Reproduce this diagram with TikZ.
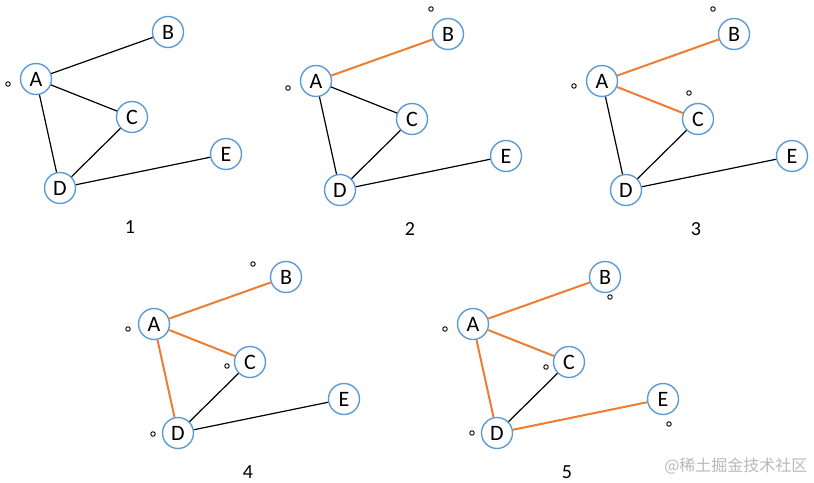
\documentclass[tikz,border=0pt]{standalone}
\usepackage{fontspec}
\setmainfont{Carlito}
\newfontfamily\cjk{Noto Sans CJK SC}
\usetikzlibrary{backgrounds}
\definecolor{nodeblue}{HTML}{5B9BD5}
\definecolor{edgeorange}{HTML}{ED7D31}

\begin{document}
\begin{tikzpicture}[
      x=1pt, y=-1pt,
      vtx/.style={circle, draw=nodeblue, line width=1.4pt, fill=white, inner sep=0pt, minimum size=31pt, font=\fontsize{22}{22}\selectfont},
      visit/.style={circle, draw=black, line width=0.9pt, inner sep=0pt, minimum size=4.5pt},
      numlbl/.style={inner sep=0pt, font=\fontsize{20}{20}\selectfont},
      plain/.style={black, line width=1.2pt},
      done/.style={edgeorange, line width=2pt}
    ]
    \useasboundingbox (0,0) rectangle (814,482);
    % five snapshots of the same graph
    \foreach \g/\dx/\dy in {1/0/0, 2/280/2, 3/566/2, 4/118/245, 5/437/245}{
      \begin{scope}[shift={(\dx,\dy)}]
        \node[vtx] (A\g) at (36,79) {A};
        \node[vtx] (B\g) at (168,32) {B};
        \node[vtx] (C\g) at (132,117) {C};
        \node[vtx] (D\g) at (60,188) {D};
        \node[vtx] (E\g) at (226,154) {E};
        \node[numlbl] (n\g) at (130,227) {\g};
      \end{scope}
      % edge k turns orange after step k
      \foreach \u/\v/\k in {A/B/1, A/C/2, A/D/3, D/E/4, C/D/9}{
        \ifnum\k<\g
          \draw[done] (\u\g) -- (\v\g);
        \else
          \draw[plain] (\u\g) -- (\v\g);
        \fi
      }
    }
    % visited marks
    \node[visit] (vA1) at (8,84) {};
    \node[visit] (vA2) at (288,88) {};
    \node[visit] (vB2) at (431,9) {};
    \node[visit] (vA3) at (574,86) {};
    \node[visit] (vB3) at (713,9) {};
    \node[visit] (vC3) at (689,93) {};
    \node[visit] (vA4) at (128,329) {};
    \node[visit] (vB4) at (253,264) {};
    \node[visit] (vC4) at (227,366) {};
    \node[visit] (vD4) at (153,434) {};
    \node[visit] (vA5) at (445,329) {};
    \node[visit] (vB5) at (610,297) {};
    \node[visit] (vC5) at (546,367) {};
    \node[visit] (vD5) at (472,433) {};
    \node[visit] (vE5) at (669,424) {};
    % watermark
    \node[text=gray!55, anchor=east, font=\cjk\fontsize{16}{16}\selectfont] (wm) at (811,466) {@稀土掘金技术社区};
  \end{tikzpicture}
\end{document}
